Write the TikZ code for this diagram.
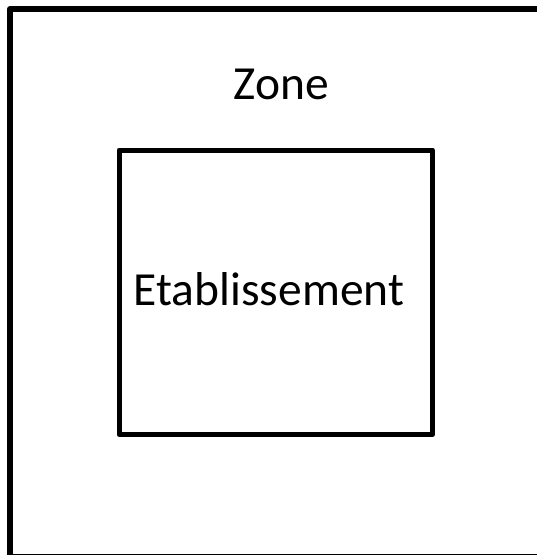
\documentclass[tikz,border=0pt]{standalone}
\usepackage{fontspec}
\setmainfont{Carlito}
\begin{document}
\begin{tikzpicture}[x=1pt,y=-1pt,
  frame/.style={draw=black,line width=6pt,line join=round},
  inner/.style={draw=black,line width=5pt,line join=round},
  label/.style={font=\fontsize{47.5}{56}\selectfont,anchor=base,inner sep=0pt}]
\useasboundingbox (0,0) rectangle (537,555);
\clip (0,0) rectangle (537,555);
% outer zone, running past the right and bottom edges
\draw[frame] (10,9) rectangle (548,556.5);
\node[label] (zone) at (281.5,99) {Zone};
% establishment box
\draw[inner] (119,150) rectangle (432.5,434.5);
\node[label] (etab) at (269,305) {Etablissement};
\end{tikzpicture}
\end{document}
